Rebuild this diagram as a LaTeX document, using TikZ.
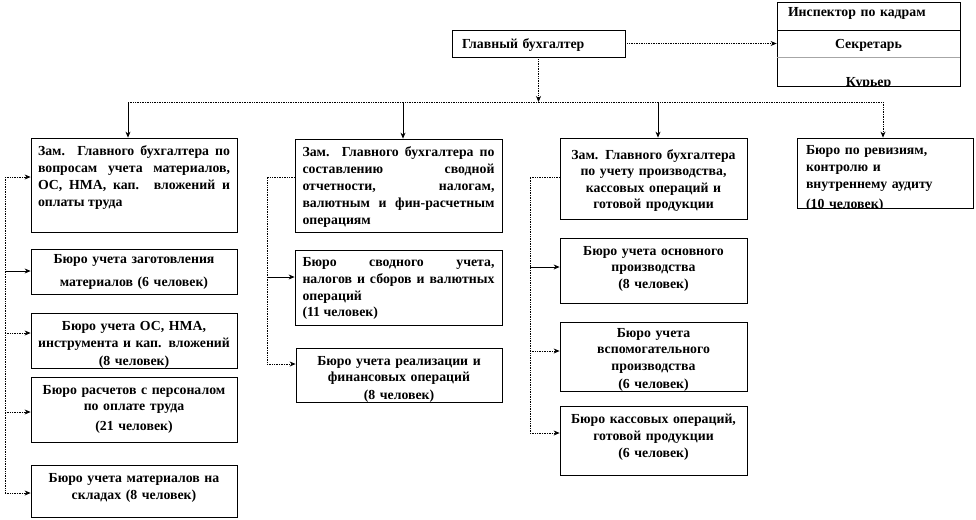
\documentclass[tikz,border=0pt]{standalone}
\usepackage{fontspec}
\setmainfont{Liberation Serif}
\usetikzlibrary{arrows.meta,fit}
\hyphenpenalty=10000
\exhyphenpenalty=10000
\tikzset{
  boxst/.style={draw=black, line width=0.8pt, inner sep=0pt},
  txt/.style={font=\fontsize{13.8}{17}\selectfont\bfseries, inner xsep=0pt, inner ysep=0pt, anchor=north},
  conn/.style={line width=0.7pt, draw=black},
  dconn/.style={conn, densely dotted},
  arr/.style={-{Stealth[length=6pt,width=5pt]}},
}
% #1 name, #2 x1, #3 y1, #4 x2, #5 y2, #6 text options, #7 text
\newcommand\orgbox[7]{%
  \pgfmathsetmacro\orgtw{#4-#2-8}%
  \pgfmathsetmacro\orgcx{(#2+#4)/2}%
  \pgfmathsetmacro\orgty{#3+7}%
  \begin{scope}
    \clip (#2,#3) rectangle (#4,#5);
    \node[txt, text width=\orgtw pt, #6] (#1-t) at (\orgcx,\orgty) {#7};
  \end{scope}
  \node[boxst, fit={(#2,#3) (#4,#5)}] (#1) {};
}
\begin{document}
\begin{tikzpicture}[x=1pt,y=-1pt]
\useasboundingbox (0,0) rectangle (976,519);

% top
\orgbox{gb}{452}{30}{625}{57}{align=left, text width=155pt, yshift=-1.5pt, xshift=1pt}{Главный бухгалтер}
\orgbox{insp}{777}{2}{960}{30}{align=left, text width=161pt, yshift=1.5pt}{Инспектор по кадрам}
\orgbox{secr}{777}{30}{960}{57}{align=center, yshift=-2.5pt}{Секретарь}
\orgbox{kur}{777}{57}{960}{86}{align=center, yshift=-13pt}{Курьер}
\draw[gray!70, line width=1.6pt] (secr.south west) -- (secr.south east);

% column 1
\orgbox{c1a}{31}{138}{237}{232}{align=justify, text width=192pt}{Зам. Главного бухгалтера по\linebreak вопросам учета материалов,\linebreak ОС, НМА, кап. вложений и\linebreak оплаты труда}
\orgbox{c1b}{31}{249}{237}{294}{align=center, yshift=2pt}{Бюро учета заготовления\\[6.5pt] материалов (6 человек)}
\orgbox{c1c}{31}{313}{237}{368}{align=center, yshift=-1pt}{Бюро учета ОС, НМА,\\ инструмента и кап. вложений\\[1.5pt] (8 человек)}
\orgbox{c1d}{31}{377}{237}{442}{align=center, yshift=-1pt}{Бюро расчетов с персоналом\\[-1pt] по оплате труда\\[3pt] (21 человек)}
\orgbox{c1e}{31}{465}{237}{517}{align=center, yshift=-1pt}{Бюро учета материалов на\\ складах (8 человек)}

% column 2
\orgbox{c2a}{295}{139}{502}{232}{align=justify, text width=192pt}{Зам. Главного бухгалтера по\linebreak составлению сводной\linebreak отчетности, налогам,\linebreak валютным и фин-расчетным\linebreak операциям}
\orgbox{c2b}{295}{250}{502}{325}{align=justify, text width=192pt}{Бюро сводного учета,\linebreak налогов и сборов и валютных\linebreak операций\\[-1pt] (11 человек)}
\orgbox{c2c}{296}{348}{502}{402}{align=center, yshift=-1pt}{Бюро учета реализации и\\[-1pt] финансовых операций\\[1pt] (8 человек)}

% column 3
\orgbox{c3a}{560}{138}{747}{219}{align=center, yshift=-4pt}{Зам. Главного бухгалтера\\[-0.5pt] по учету производства,\\[-0.5pt] кассовых операций и\\[-0.5pt] готовой продукции}
\orgbox{c3b}{560}{238}{747}{303}{align=center, yshift=-1pt}{Бюро учета основного\\[-0.5pt] производства\\[-0.5pt] (8 человек)}
\orgbox{c3c}{560}{322}{747}{391}{align=center, yshift=1pt}{Бюро учета\\[-0.5pt] вспомогательного\\[-0.5pt] производства\\[1.5pt] (6 человек)}
\orgbox{c3d}{560}{406}{747}{475}{align=center, yshift=-1pt}{Бюро кассовых операций,\\ готовой продукции\\ (6 человек)}

% column 4
\orgbox{c4a}{797}{138}{973}{208}{align=left, text width=160pt, xshift=1pt}{Бюро по ревизиям,\\ контролю и\\ внутреннему аудиту\\[3pt] (10 человек)}

% connectors from the chief accountant
\draw[dconn, arr] (gb.east) -- (secr.west);
\coordinate (b1) at (128,102);
\coordinate (b2) at (403,102);
\coordinate (b3) at (658,102);
\coordinate (b4) at (883,102);
\draw[dconn, arr] (gb.south) -- (gb.south |- b1);
\draw[dconn] (b1) -- (b4);
\draw[conn, arr] (b1) -- (b1 |- c1a.north);
\draw[conn, arr] (b2) -- (b2 |- c2a.north);
\draw[conn, arr] (b3) -- (b3 |- c3a.north);
\draw[dconn, arr] (b4) -- (b4 |- c4a.north);

% column 1 bracket
\coordinate (l1a) at (5,177);
\coordinate (l1b) at (5,271);
\coordinate (l1c) at (5,333);
\coordinate (l1d) at (5,412);
\coordinate (l1e) at (5,493);
\draw[dconn] (l1a) -- (l1e);
\draw[dconn, arr] (l1a) -- (l1a -| c1a.west);
\draw[conn, arr] (l1b) -- (l1b -| c1b.west);
\draw[dconn, arr] (l1c) -- (l1c -| c1c.west);
\draw[dconn, arr] (l1d) -- (l1d -| c1d.west);
\draw[dconn, arr] (l1e) -- (l1e -| c1e.west);

% column 2 bracket
\coordinate (l2a) at (267,177);
\coordinate (l2b) at (267,277);
\coordinate (l2c) at (267,364);
\draw[dconn] (l2a -| c2a.west) -- (l2a) -- (l2c);
\draw[conn, arr] (l2b) -- (l2b -| c2b.west);
\draw[dconn, arr] (l2c) -- (l2c -| c2c.west);

% column 3 bracket
\coordinate (l3a) at (530,177);
\coordinate (l3b) at (530,267);
\coordinate (l3c) at (530,351);
\coordinate (l3d) at (530,433);
\draw[dconn] (l3a -| c3a.west) -- (l3a) -- (l3d);
\draw[conn, arr] (l3b) -- (l3b -| c3b.west);
\draw[dconn, arr] (l3c) -- (l3c -| c3c.west);
\draw[dconn, arr] (l3d) -- (l3d -| c3d.west);
\end{tikzpicture}
\end{document}
